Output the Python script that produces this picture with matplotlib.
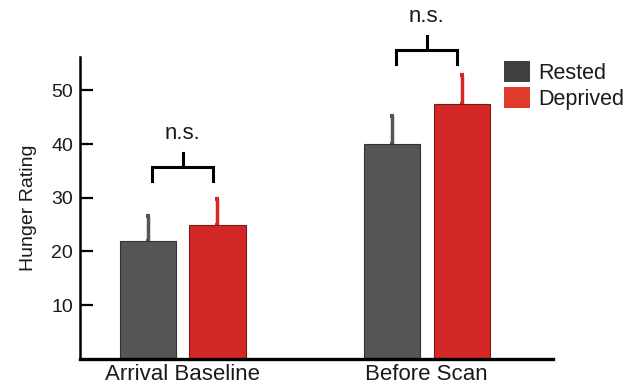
import matplotlib
matplotlib.use("Agg")
import matplotlib.pyplot as plt
from matplotlib.patches import Patch
import numpy as np

plt.rcParams['font.family'] = ['Liberation Sans', 'DejaVu Sans']

categories = ["Arrival Baseline", "Before Scan"]
series_names = ["Rested", "Deprived"]
rested = [22.0, 40.0]
rested_err = [4.6, 5.2]
deprived = [25.0, 47.5]
deprived_err = [4.8, 5.4]
sig_labels = ["n.s.", "n.s."]
bracket_levels = [35.7, 57.5]
yticks = [10, 20, 30, 40, 50]

bar_colors = ["#555557", "#d42828"]
legend_colors = ["#404040", "#e03a2a"]
text_color = "#1a1a1a"

fig = plt.figure(figsize=(6.3, 3.88), dpi=100)
ax = fig.add_axes([0.127, 0.075, 0.751, 0.778])

x = np.arange(len(categories))
w = 0.23
off = 0.143
ax.bar(x - off, rested, w, color=bar_colors[0], edgecolor="#333333", linewidth=0.8, zorder=2)
ax.bar(x + off, deprived, w, color=bar_colors[1], edgecolor="#7a1a1a", linewidth=0.8, zorder=2)
ax.errorbar(x - off, rested, yerr=[np.zeros(2), rested_err], fmt="none",
            ecolor=bar_colors[0], elinewidth=2.5, capsize=1.6, capthick=3, zorder=1)
ax.errorbar(x + off, deprived, yerr=[np.zeros(2), deprived_err], fmt="none",
            ecolor=bar_colors[1], elinewidth=2.5, capsize=1.6, capthick=3, zorder=1)

# significance brackets
for i in range(len(categories)):
    y_bar = bracket_levels[i]
    y_leg = y_bar - 2.6
    y_stem = y_bar + 2.7
    xl, xr = x[i] - 0.125, x[i] + 0.125
    ax.plot([xl, xl, xr, xr], [y_leg, y_bar, y_bar, y_leg], color="black", lw=2.2,
            clip_on=False, solid_joinstyle="miter")
    ax.plot([x[i], x[i]], [y_bar, y_stem], color="black", lw=2.2, clip_on=False)
    ax.text(x[i], y_bar + 5.3, sig_labels[i], ha="center", va="baseline", fontsize=16,
            color=text_color, clip_on=False)

ax.set_xlim(-0.42, 1.518)
ax.set_ylim(0, 56.2)
ax.set_yticks(yticks)
ax.set_xticks(x)
ax.set_xticklabels(categories, fontsize=16, color=text_color)
ax.tick_params(axis="x", length=0, pad=4)
ax.tick_params(axis="y", direction="in", length=9, width=1.6, labelsize=14, pad=5,
               labelcolor=text_color)
ax.set_ylabel("Hunger Rating", fontsize=14, labelpad=10, color=text_color)

for s in ["top", "right"]:
    ax.spines[s].set_visible(False)
ax.spines["left"].set_linewidth(1.8)
ax.spines["bottom"].set_linewidth(2.4)

handles = [Patch(facecolor=c, edgecolor="none") for c in legend_colors]
leg = fig.legend(handles, series_names, loc="upper left", bbox_to_anchor=(0.8, 0.842),
                 frameon=False, fontsize=15.5, handlelength=1.2, handleheight=1.1,
                 handletextpad=0.4, labelspacing=0.15, borderpad=0, borderaxespad=0)
for t in leg.get_texts():
    t.set_color(text_color)

fig.savefig("out.png", dpi=100)
